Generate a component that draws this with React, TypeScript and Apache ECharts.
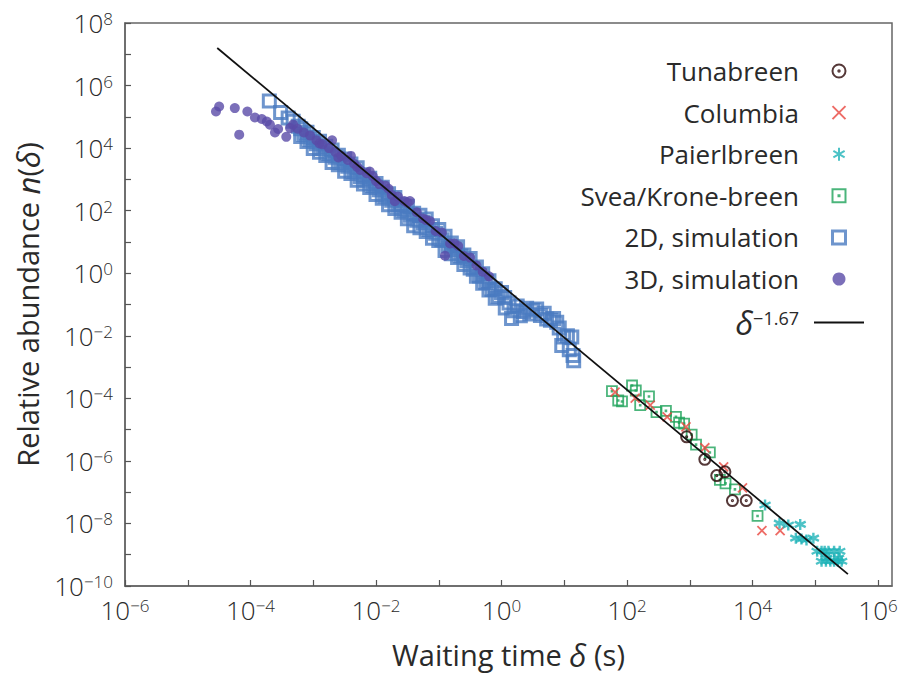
import { useEffect, useRef } from 'react';
import * as echarts from 'echarts';

// All points as [log10(δ / s), log10(n(δ))].
const tunabreenLog: number[][] = [
  [2.95, -5.23], [3.24, -5.95], [3.43, -6.47], [3.56, -6.35], [3.68, -7.27], [3.90, -7.27],
];
const columbiaLog: number[][] = [
  [1.81, -3.80], [2.13, -3.99], [2.37, -4.22], [2.64, -4.59], [2.94, -4.91],
  [3.24, -5.58], [3.54, -6.19], [3.84, -6.86], [4.15, -8.23], [4.44, -8.23],
];
const paierlbreenLog: number[][] = [
  [4.20, -7.41], [4.43, -7.99], [4.57, -8.05], [4.76, -8.03],
  [4.69, -8.47], [4.78, -8.50], [4.86, -8.53], [4.97, -8.47],
  [5.03, -8.89], [5.10, -8.89], [5.15, -8.89], [5.21, -8.89], [5.30, -8.89], [5.39, -8.89],
  [5.18, -9.11], [5.37, -9.11],
  [5.10, -9.21], [5.17, -9.21], [5.24, -9.21], [5.30, -9.21], [5.36, -9.21], [5.42, -9.21],
];
const sveaLog: number[][] = [
  [1.76, -3.77], [2.08, -3.59], [2.14, -3.75], [1.86, -4.07], [1.92, -4.10], [2.35, -3.94],
  [2.21, -4.22], [2.47, -4.44], [2.62, -4.40], [2.78, -4.59], [2.83, -4.78], [2.91, -4.81],
  [3.03, -5.16], [3.10, -5.48], [3.32, -5.73], [3.48, -6.61], [3.57, -6.72], [3.72, -6.91],
  [4.08, -7.76],
];
const sim2DLog: number[][] = [
  [-3.70, 5.51], [-3.52, 5.14], [-3.40, 4.96], [-3.32, 4.86], [-3.24, 4.70],
  [-3.20, 4.62], [-3.20, 4.37], [-3.10, 4.51], [-3.10, 4.21], [-3.00, 4.34], [-3.00, 3.99],
  [-2.90, 4.22], [-2.90, 3.87], [-2.80, 4.06], [-2.80, 3.76], [-2.70, 3.94], [-2.70, 3.54],
  [-2.60, 3.77], [-2.60, 3.47], [-2.50, 3.65], [-2.50, 3.26], [-2.40, 3.49], [-2.40, 3.19],
  [-2.30, 3.37], [-2.30, 2.97], [-2.20, 3.15], [-2.20, 2.85], [-2.10, 3.04], [-2.10, 2.74],
  [-2.00, 2.87], [-2.00, 2.52], [-1.90, 2.75], [-1.90, 2.40], [-1.80, 2.54], [-1.80, 2.19],
  [-1.70, 2.42], [-1.70, 2.07], [-1.60, 2.20], [-1.60, 1.95], [-1.50, 2.14], [-1.50, 1.74],
  [-1.40, 1.92], [-1.40, 1.52], [-1.30, 1.85], [-1.30, 1.45], [-1.20, 1.73], [-1.20, 1.33],
  [-1.10, 1.52], [-1.10, 1.12], [-1.00, 1.40], [-1.00, 1.05], [-0.90, 1.18], [-0.90, 0.73],
  [-0.80, 0.97], [-0.80, 0.62], [-0.70, 0.85], [-0.70, 0.50], [-0.60, 0.58], [-0.60, 0.28],
  [-0.50, 0.47], [-0.50, 0.17], [-0.40, 0.20], [-0.40, -0.10], [-0.30, -0.02], [-0.30, -0.32],
  [-0.20, -0.24], [-0.20, -0.54], [-0.10, -0.50], [-0.10, -0.80],
  [-3.15, 4.44], [-3.05, 4.27], [-2.95, 4.14], [-2.85, 3.99], [-2.75, 3.82], [-2.65, 3.71],
  [-2.55, 3.54], [-2.45, 3.42], [-2.35, 3.26], [-2.25, 3.09], [-2.15, 2.97], [-2.05, 2.80],
  [-1.95, 2.67], [-1.85, 2.47], [-1.75, 2.33], [-1.65, 2.17], [-1.55, 2.02], [-1.45, 1.85],
  [-1.35, 1.69], [-1.25, 1.62], [-1.15, 1.40], [-1.05, 1.28], [-0.95, 1.07], [-0.85, 0.88],
  [-0.75, 0.76], [-0.65, 0.55], [-0.55, 0.40], [-0.45, 0.13], [-0.35, -0.09], [-0.25, -0.30],
  [-0.15, -0.52], [-0.05, -0.74],
  [0.00, -0.62], [0.05, -0.78], [0.06, -1.11], [0.12, -0.95], [0.16, -1.45], [0.20, -1.20],
  [0.25, -1.05], [0.30, -1.36], [0.35, -1.22], [0.40, -1.12], [0.45, -1.30], [0.50, -1.18],
  [0.56, -1.14], [0.62, -1.35], [0.68, -1.28], [0.72, -1.46], [0.78, -1.50], [0.83, -1.45],
  [0.88, -1.57], [0.92, -1.75], [0.96, -2.31], [0.99, -2.04], [1.05, -2.00], [1.12, -2.04],
  [1.08, -2.45], [1.14, -2.63], [1.15, -2.80],
];
const sim3DLog: number[][] = [
  [-4.55, 5.17], [-4.50, 5.33], [-4.25, 5.28], [-4.18, 4.43], [-4.05, 5.17], [-3.93, 4.98],
  [-3.82, 4.93], [-3.74, 4.85], [-3.69, 4.75], [-3.61, 4.50], [-3.56, 4.61], [-3.43, 4.36],
  [-3.37, 4.64], [-3.32, 4.75],
  [-3.25, 4.62], [-3.15, 4.50], [-3.05, 4.40], [-2.95, 4.25], [-2.90, 4.15], [-2.85, 4.12],
  [-2.75, 4.00], [-2.70, 4.25], [-2.65, 3.88], [-2.60, 3.70], [-2.55, 3.75], [-2.45, 3.62],
  [-2.40, 3.75], [-2.35, 3.50], [-2.30, 3.40], [-2.25, 3.30], [-2.15, 3.20], [-2.10, 3.25],
  [-2.05, 3.10], [-2.00, 2.95], [-1.95, 2.85], [-1.85, 2.80], [-1.80, 2.70], [-1.75, 2.50],
  [-1.70, 2.30], [-1.65, 2.45], [-1.55, 2.31], [-1.50, 2.25], [-1.46, 2.31], [-1.35, 1.95],
  [-1.25, 1.75], [-1.20, 1.70], [-1.14, 1.67], [-1.05, 1.35], [-0.95, 1.30], [-0.90, 0.56],
  [-0.82, 0.95], [-0.75, 0.95], [-0.69, 0.87], [-0.60, 0.55], [-0.50, 0.50], [-0.40, 0.25],
  [-0.30, 0.05], [-0.20, -0.10],
];
// end points of the δ^-1.67 guide line
const fitLineLog: number[][] = [[-4.53, 7.20], [5.52, -9.62]];

const seriesNames = [
  'Tunabreen', 'Columbia', 'Paierlbreen', 'Svea/Krone-breen',
  '2D, simulation', '3D, simulation', 'fit',
];

const FONT = "'Open Sans', 'Noto Sans', 'DejaVu Sans', sans-serif";
const TEXT = '#2a2a2a';
const W = 400;

const toValues = (pts: number[][]) => pts.map(([lx, ly]) => [Math.pow(10, lx), Math.pow(10, ly)]);

const powLabel = (v: number) => {
  const l = Math.log10(v);
  const e = Math.round(l);
  if (Math.abs(l - e) > 1e-6 || e % 2 !== 0) return '';
  return `{b|10}{s|${e < 0 ? '\u2212' : ''}${Math.abs(e)}}`;
};

const labelRich = {
  b: { fontSize: 26, fontFamily: FONT, fontWeight: 300, color: TEXT },
  s: { fontSize: 17, fontFamily: FONT, fontWeight: 300, color: TEXT, verticalAlign: 'top' },
};

const nameRich = {
  a: { fontSize: 29, fontFamily: FONT, fontWeight: W, color: TEXT },
  d: { fontSize: 31, fontFamily: FONT, fontStyle: 'italic', fontWeight: W, color: TEXT },
};

const SYM_CIRCLE_DOT = 'path://M1,10A9,9,0,1,1,19,10A9,9,0,1,1,1,10Z M9,10A1,1,0,1,1,11,10A1,1,0,1,1,9,10Z';
const SYM_CROSS = 'path://M0,0L10,10M10,0L0,10';
const SYM_STAR = 'path://M5,0L5,10M0.67,2.5L9.33,7.5M0.67,7.5L9.33,2.5';
const SYM_SQUARE_DOT = 'path://M0,0L10,0L10,10L0,10Z M4.6,4.6L5.4,4.6L5.4,5.4L4.6,5.4Z';
const SYM_SQUARE = 'path://M0,0L10,0L10,10L0,10Z';

export default function App() {
  const ref = useRef<HTMLDivElement>(null);

  useEffect(() => {
    if (!ref.current) return;
    const chart = echarts.init(ref.current, undefined, { renderer: 'svg' });
    const axisCommon = {
      type: 'log' as const,
      logBase: 10,
      interval: 1,
      splitLine: { show: false },
      axisLine: { show: true, lineStyle: { color: '#666', width: 1.5 } },
      axisTick: { show: true, inside: true, length: 6, lineStyle: { color: '#555', width: 1.2 } },
    };
    chart.setOption({
      animation: false,
      backgroundColor: '#fff',
      grid: {
        left: 125, right: 11, top: 23, bottom: 87,
        show: true, borderColor: '#666', borderWidth: 1.5, backgroundColor: 'transparent',
      },
      xAxis: {
        ...axisCommon,
        min: 1e-6,
        max: 1.67e6,
        axisLabel: { formatter: powLabel, margin: 11, rich: labelRich, showMaxLabel: false },
        name: '{a|Waiting time }{d|δ}{a| (s)}',
        nameLocation: 'middle',
        nameGap: 53,
        nameTextStyle: { rich: nameRich },
      },
      yAxis: {
        ...axisCommon,
        min: 1e-10,
        max: 1e8,
        axisLabel: { formatter: powLabel, margin: 12, rich: labelRich },
        name: '{a|Relative abundance }{d|n}{a|(}{d|δ}{a|)}',
        nameLocation: 'middle',
        nameGap: 82,
        nameTextStyle: { rich: nameRich },
      },
      legend: {
        orient: 'vertical',
        right: 38,
        top: 57,
        align: 'right',
        padding: 0,
        itemWidth: 50,
        itemHeight: 13,
        itemGap: 13.6,
        selectedMode: false,
        data: [
          'Tunabreen', 'Columbia', 'Paierlbreen', 'Svea/Krone-breen',
          { name: '2D, simulation', itemStyle: { borderWidth: 3 } },
          '3D, simulation',
          { name: 'fit', itemStyle: { color: 'rgba(0,0,0,0)', borderWidth: 0, opacity: 0 } },
        ].map((d, i) => (typeof d === 'string' ? seriesNames[i] : d)),
        formatter: (name: string) => (name === 'fit' ? '{d|δ}{s|\u22121.67}' : name),
        textStyle: {
          fontSize: 26, fontFamily: FONT, fontWeight: W, color: TEXT, lineHeight: 28,
          padding: [0, 10, 0, 0],
          rich: {
            d: { fontSize: 32, fontFamily: FONT, fontStyle: 'italic', fontWeight: W, color: TEXT, lineHeight: 28 },
            s: { fontSize: 18, fontFamily: FONT, fontWeight: W, color: TEXT, verticalAlign: 'top', lineHeight: 18 },
          },
        },
      },
      series: [
        {
          name: '2D, simulation', type: 'scatter', data: toValues(sim2DLog),
          symbol: SYM_SQUARE, symbolSize: 12,
          itemStyle: { color: 'none', borderColor: '#4a7bc0', borderWidth: 3 },
        },
        {
          name: '3D, simulation', type: 'scatter', data: toValues(sim3DLog),
          symbol: 'circle', symbolSize: 10,
          itemStyle: { color: '#5a4ba8' },
        },
        {
          name: 'Svea/Krone-breen', type: 'scatter', data: toValues(sveaLog),
          symbol: SYM_SQUARE_DOT, symbolSize: 10,
          itemStyle: { color: 'none', borderColor: '#1ea35a', borderWidth: 1.8 },
        },
        {
          name: 'Columbia', type: 'scatter', data: toValues(columbiaLog),
          symbol: SYM_CROSS, symbolSize: 9,
          itemStyle: { color: 'none', borderColor: '#e8463f', borderWidth: 1.8 },
        },
        {
          name: 'Tunabreen', type: 'scatter', data: toValues(tunabreenLog),
          symbol: SYM_CIRCLE_DOT, symbolSize: 11,
          itemStyle: { color: 'none', borderColor: '#2a0606', borderWidth: 2 },
        },
        {
          name: 'Paierlbreen', type: 'scatter', data: toValues(paierlbreenLog),
          symbol: SYM_STAR, symbolSize: 11,
          itemStyle: { color: 'none', borderColor: '#1fb3b8', borderWidth: 2.4 },
        },
        {
          name: 'fit', type: 'line', data: toValues(fitLineLog),
          symbol: 'none', lineStyle: { color: '#111', width: 1.8 },
          itemStyle: { color: 'rgba(0,0,0,0)' },
        },
      ],
    });
    return () => chart.dispose();
  }, []);

  return (
    <div
      ref={ref}
      style={{ position: 'fixed', left: 0, top: 0, width: 903, height: 675, background: '#fff' }}
    />
  );
}
